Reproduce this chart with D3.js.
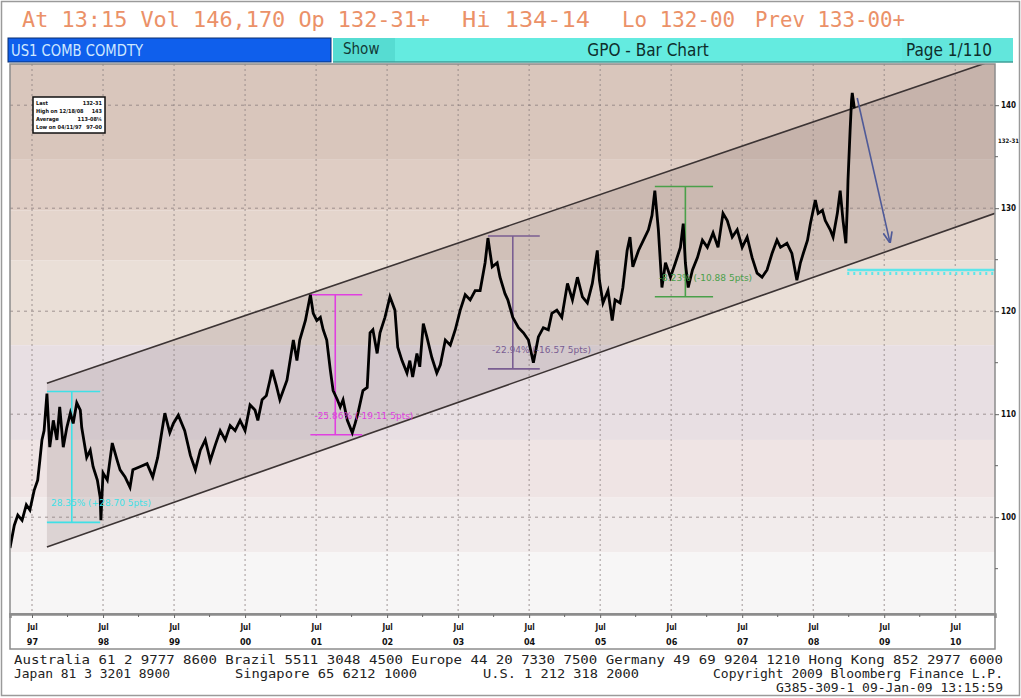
<!DOCTYPE html>
<html>
<head>
<meta charset="utf-8">
<script src="https://cdn.jsdelivr.net/npm/d3@7"></script>
<style>
  body { margin: 0; background: #fff; }
  svg { display: block; }
</style>
</head>
<body>
<div id="chart"></div>
<script>
// price path (decimal year, price)
var dates = [1997.19,1997.25,1997.30,1997.36,1997.42,1997.47,1997.53,1997.58,1997.61,1997.64,1997.67,1997.71,1997.75,1997.80,1997.85,1997.89,1997.94,1997.99,1998.04,1998.08,1998.13,1998.18,1998.20,1998.27,1998.32,1998.36,1998.42,1998.46,1998.47,1998.50,1998.56,1998.63,1998.70,1998.74,1998.81,1998.88,1998.92,1999.02,1999.12,1999.20,1999.27,1999.33,1999.37,1999.44,1999.49,1999.56,1999.65,1999.73,1999.80,1999.87,1999.94,2000.01,2000.08,2000.15,2000.22,2000.29,2000.36,2000.43,2000.50,2000.57,2000.64,2000.68,2000.74,2000.80,2000.85,2000.88,2000.94,2000.99,2001.09,2001.18,2001.23,2001.27,2001.35,2001.42,2001.46,2001.51,2001.56,2001.60,2001.65,2001.70,2001.74,2001.80,2001.84,2001.88,2001.94,2002.01,2002.05,2002.09,2002.16,2002.22,2002.26,2002.30,2002.36,2002.40,2002.47,2002.54,2002.61,2002.65,2002.71,2002.78,2002.82,2002.86,2002.92,2002.96,2003.01,2003.06,2003.13,2003.20,2003.25,2003.32,2003.39,2003.46,2003.53,2003.60,2003.67,2003.74,2003.81,2003.88,2003.92,2003.98,2004.05,2004.09,2004.16,2004.20,2004.27,2004.35,2004.42,2004.49,2004.56,2004.63,2004.70,2004.77,2004.82,2004.89,2004.96,2005.04,2005.11,2005.18,2005.25,2005.32,2005.39,2005.46,2005.49,2005.54,2005.61,2005.67,2005.71,2005.78,2005.82,2005.88,2005.92,2005.96,2006.04,2006.11,2006.18,2006.23,2006.27,2006.32,2006.37,2006.42,2006.49,2006.56,2006.63,2006.67,2006.70,2006.74,2006.80,2006.87,2006.94,2007.01,2007.09,2007.16,2007.23,2007.29,2007.36,2007.43,2007.50,2007.57,2007.64,2007.71,2007.78,2007.85,2007.92,2007.99,2008.04,2008.13,2008.20,2008.27,2008.32,2008.36,2008.42,2008.46,2008.53,2008.57,2008.63,2008.67,2008.74,2008.78,2008.84,2008.88,2008.92,2008.96,2008.98,2008.99,2009.02,2009.04,2009.05,2009.08];
var prices = [97.0,99.2,100.2,99.7,101.2,100.7,102.6,103.6,105.5,107.5,108.4,112.0,106.8,109.4,107.5,110.7,106.8,108.7,110.1,109.1,111.1,110.4,108.7,105.8,106.5,104.9,103.6,101.9,99.7,104.3,103.6,107.2,105.5,104.6,103.9,102.9,104.6,104.9,105.2,103.9,105.8,108.4,110.1,108.2,109.1,109.9,108.4,106.0,104.6,106.5,107.5,105.5,107.0,108.4,107.5,108.9,108.4,109.4,108.4,110.9,110.4,109.4,111.4,111.8,113.3,114.3,112.8,111.4,113.3,117.2,115.2,117.2,119.1,121.6,119.8,119.1,119.4,118.2,117.2,114.3,112.3,111.4,110.7,111.4,109.4,108.2,109.1,110.1,112.3,112.6,117.9,118.2,115.9,117.9,119.4,121.4,120.1,116.5,115.2,114.0,115.2,113.6,115.9,114.6,118.8,117.5,115.5,114.0,114.8,117.2,116.7,118.2,120.1,121.6,121.1,122.0,122.0,124.7,127.1,124.3,124.7,123.3,121.7,121.1,119.4,118.4,117.9,117.2,115.0,117.5,118.4,118.2,119.8,120.1,119.4,122.7,121.1,123.3,121.4,120.8,122.7,125.9,123.0,120.8,122.0,119.1,121.1,120.8,122.3,125.9,127.2,124.3,125.9,126.9,127.9,129.3,131.7,127.9,122.3,124.7,123.3,124.7,126.2,128.5,124.7,122.3,124.0,125.2,126.9,126.2,127.6,126.2,129.5,128.8,127.2,127.9,126.2,127.2,125.2,123.7,123.3,124.0,125.6,126.9,126.2,126.6,125.6,123.0,124.7,125.6,126.9,128.5,130.8,129.5,129.8,128.8,127.9,127.2,129.5,131.7,128.8,126.6,130.1,132.7,137.6,140.5,141.2,139.7];

var yTicks = [100, 110, 120, 130, 140];
var yMinorTicks = [95, 105, 115, 125, 135];
var xTicks = [1997.5,1998.5,1999.5,2000.5,2001.5,2002.5,2003.5,2004.5,2005.5,2006.5,2007.5,2008.5,2009.5,2010.5];
var xMinorTicks = [1998,1999,2000,2001,2002,2003,2004,2005,2006,2007,2008,2009,2010];
var xTickMonth = "Jul";
var xTickYears = ["97","98","99","00","01","02","03","04","05","06","07","08","09","10"];

// shaded price bands (top edge to bottom edge)
var bandEdges = [144, 134.7, 129.8, 124.95, 116.7, 107.5, 101.9, 96.6, 90.6];
var bandColors = ["#d9c6bc", "#dfcdc4", "#e4d5cc", "#eadfd7", "#e8dfe3", "#efe4e4", "#f2ecec", "#f7f6f6"];

// trend channel
var channelDates = [1997.71, 2011.06];
var channelUpper = [113.0, 144.4];
var channelLower = [97.1, 129.5];

// retracement measurements
var measureFrom = [1997.71, 2001.42, 2003.92, 2006.27];
var measureTo = [1998.46, 2002.15, 2004.65, 2007.09];
var measureAt = [1998.06, 2001.77, 2004.27, 2006.70];
var measureHigh = [112.2, 121.6, 127.3, 132.1];
var measureLow = [99.5, 108.0, 114.4, 121.4];
var measureLabels = ["28.35% (+28.70 5pts)", "-25.86% (-19.11 5pts)", "-22.94% (-16.57 5pts)", "-8.23% (-10.88 5pts)"];
var measureColors = ["#3fe0e6", "#e040e0", "#7a5e92", "#4aa04a"];

var supportLevel = 124.0;
var supportDates = [2008.98, 2011.06];
var arrowFrom = [2009.12, 140.7];
var arrowTo = [2009.58, 126.7];
var axisNote = [136.6, "132-31"];

var headerItems = ["At 13:15 Vol 146,170 Op 132-31+", "Hi 134-14", "Lo 132-00", "Prev 133-00+"];
var legendRows = [["Last", "132-31"], ["High on 12/18/08", "143"], ["Average", "113-08\u00bc"], ["Low on 04/11/97", "97-00"]];
var footerRow1 = "Australia 61 2 9777 8600 Brazil 5511 3048 4500 Europe 44 20 7330 7500 Germany 49 69 9204 1210 Hong Kong 852 2977 6000";
var footerRow2 = ["Japan 81 3 3201 8900", "Singapore 65 6212 1000", "U.S. 1 212 318 2000", "Copyright 2009 Bloomberg Finance L.P."];
var footerRow3 = "G385-309-1 09-Jan-09 13:15:59";

var width = 1021;
var height = 698;
var plotLeft = 10, plotRight = 995, plotTop = 64, plotBottom = 614;

var svg = d3.select("#chart").append("svg")
  .attr("width", width)
  .attr("height", height);

svg.append("rect")
  .attr("width", width).attr("height", height)
  .attr("fill", "#fff");

var x = d3.scaleLinear().domain([1997.19, 2011.06]).range([plotLeft, plotRight]);
var y = d3.scaleLinear().domain([90.6, 144]).range([plotBottom, plotTop]);

// ---- header ----
var headerX = [[22, 408], [462, 128], [622, 113], [755, 150]];
svg.selectAll(".hdr").data(headerItems).enter().append("text")
  .attr("class", "hdr")
  .attr("x", function(d, i) { return headerX[i][0]; })
  .attr("y", 27)
  .attr("textLength", function(d, i) { return headerX[i][1]; })
  .attr("lengthAdjust", "spacingAndGlyphs")
  .attr("font-family", "DejaVu Sans Mono")
  .attr("font-size", 21)
  .attr("fill", "#eb9168")
  .text(function(d) { return d; });

svg.append("rect").attr("x", 8).attr("y", 38).attr("width", 323).attr("height", 24)
  .attr("fill", "#0f5fec").attr("stroke", "#0a2e6e").attr("stroke-width", 1);
svg.append("text").attr("x", 11).attr("y", 56)
  .attr("font-family", "Liberation Sans Narrow, DejaVu Sans Condensed, sans-serif")
  .attr("font-size", 16).attr("fill", "#cfe8ff")
  .attr("textLength", 132).attr("lengthAdjust", "spacingAndGlyphs")
  .text("US1 COMB COMDTY");

svg.append("rect").attr("x", 333).attr("y", 38).attr("width", 62).attr("height", 24)
  .attr("fill", "#56dcd2");
svg.append("rect").attr("x", 395).attr("y", 38).attr("width", 507).attr("height", 24)
  .attr("fill", "#64ebe0");
svg.append("rect").attr("x", 902).attr("y", 38).attr("width", 111).attr("height", 24)
  .attr("fill", "#62e6dc");
svg.append("line").attr("x1", 333).attr("x2", 1013).attr("y1", 62).attr("y2", 62)
  .attr("stroke", "#3f9f98").attr("stroke-width", 1.5);
svg.append("text").attr("x", 343).attr("y", 54)
  .attr("font-family", "DejaVu Sans Condensed, sans-serif").attr("font-size", 15)
  .attr("fill", "#123a36").text("Show");
svg.append("text").attr("x", 648).attr("y", 56).attr("text-anchor", "middle")
  .attr("font-family", "DejaVu Sans Condensed, sans-serif").attr("font-size", 17)
  .attr("fill", "#0e2e2c").text("GPO - Bar Chart");
svg.append("text").attr("x", 906).attr("y", 56)
  .attr("font-family", "DejaVu Sans Condensed, sans-serif").attr("font-size", 17)
  .attr("fill", "#0e2e2c").text("Page 1/110");

// ---- plot area ----
svg.append("clipPath").attr("id", "plotClip")
  .append("rect").attr("x", plotLeft).attr("y", plotTop)
  .attr("width", plotRight - plotLeft).attr("height", plotBottom - plotTop);

var plot = svg.append("g").attr("clip-path", "url(#plotClip)");

plot.selectAll(".band").data(bandColors).enter().append("rect")
  .attr("class", "band")
  .attr("x", plotLeft)
  .attr("width", plotRight - plotLeft)
  .attr("y", function(d, i) { return y(bandEdges[i]); })
  .attr("height", function(d, i) { return y(bandEdges[i + 1]) - y(bandEdges[i]); })
  .attr("fill", function(d) { return d; });

// channel shading
var channelPoly = [
  [x(channelDates[0]), y(channelUpper[0])],
  [x(channelDates[1]), y(channelUpper[1])],
  [x(channelDates[1]), y(channelLower[1])],
  [x(channelDates[0]), y(channelLower[0])]
];
plot.append("polygon")
  .attr("points", channelPoly.map(function(p) { return p.join(","); }).join(" "))
  .attr("fill", "#5e4848")
  .attr("fill-opacity", 0.15);

// grid
plot.selectAll(".vgrid").data(xTicks).enter().append("line")
  .attr("x1", function(d) { return x(d); })
  .attr("x2", function(d) { return x(d); })
  .attr("y1", plotTop).attr("y2", plotBottom)
  .attr("stroke", "#8a7f7f").attr("stroke-width", 0.8)
  .attr("stroke-dasharray", "2,3");
plot.selectAll(".hgrid").data(yTicks).enter().append("line")
  .attr("x1", plotLeft).attr("x2", plotRight)
  .attr("y1", function(d) { return y(d); })
  .attr("y2", function(d) { return y(d); })
  .attr("stroke", "#8a7f7f").attr("stroke-width", 0.8)
  .attr("stroke-dasharray", "3,4");

// channel lines
[channelUpper, channelLower].forEach(function(c) {
  plot.append("line")
    .attr("x1", x(channelDates[0])).attr("y1", y(c[0]))
    .attr("x2", x(channelDates[1])).attr("y2", y(c[1]))
    .attr("stroke", "#3c3434").attr("stroke-width", 1.6);
});

// support level
plot.append("line")
  .attr("x1", x(supportDates[0])).attr("x2", x(supportDates[1]))
  .attr("y1", y(supportLevel)).attr("y2", y(supportLevel))
  .attr("stroke", "#5ee6ea").attr("stroke-width", 2.5);
plot.append("line")
  .attr("x1", x(supportDates[0])).attr("x2", x(supportDates[1]))
  .attr("y1", y(supportLevel) + 3.5).attr("y2", y(supportLevel) + 3.5)
  .attr("stroke", "#5ee6ea").attr("stroke-width", 3)
  .attr("stroke-dasharray", "2,4");

// measurements
measureAt.forEach(function(t, i) {
  var g = plot.append("g").attr("stroke", measureColors[i]).attr("stroke-width", 1.6);
  g.append("line").attr("x1", x(measureFrom[i])).attr("x2", x(measureTo[i]))
    .attr("y1", y(measureHigh[i])).attr("y2", y(measureHigh[i]));
  g.append("line").attr("x1", x(measureFrom[i])).attr("x2", x(measureTo[i]))
    .attr("y1", y(measureLow[i])).attr("y2", y(measureLow[i]));
  g.append("line").attr("x1", x(t)).attr("x2", x(t))
    .attr("y1", y(measureHigh[i])).attr("y2", y(measureLow[i]));
});

// price
var line = d3.line()
  .x(function(d, i) { return x(dates[i]); })
  .y(function(d) { return y(d); });

plot.append("path")
  .attr("d", line(prices))
  .attr("fill", "none")
  .attr("stroke", "#000")
  .attr("stroke-width", 2.8)
  .attr("stroke-linejoin", "miter");

measureLabels.forEach(function(s, i) {
  plot.append("text")
    .attr("x", x(measureFrom[i]) + 4)
    .attr("y", y(measureLow[i]) - 16)
    .attr("font-family", "DejaVu Sans, sans-serif")
    .attr("font-size", 9)
    .attr("fill", measureColors[i])
    .text(s);
});

// arrow
svg.append("defs").append("marker")
  .attr("id", "arrowHead").attr("viewBox", "0 0 10 10")
  .attr("refX", 9).attr("refY", 5)
  .attr("markerWidth", 7).attr("markerHeight", 7)
  .attr("orient", "auto")
  .append("path").attr("d", "M0,1 L10,5 L0,9").attr("fill", "none")
  .attr("stroke", "#4f5a98").attr("stroke-width", 1.5);
plot.append("line")
  .attr("x1", x(arrowFrom[0])).attr("y1", y(arrowFrom[1]))
  .attr("x2", x(arrowTo[0])).attr("y2", y(arrowTo[1]))
  .attr("stroke", "#4f5a98").attr("stroke-width", 1.6)
  .attr("marker-end", "url(#arrowHead)");

// legend box
var legend = svg.append("g").attr("transform", "translate(33,97)");
legend.append("rect").attr("width", 72).attr("height", 36)
  .attr("fill", "#fff").attr("stroke", "#111").attr("stroke-width", 1.5);
legendRows.forEach(function(r, i) {
  legend.append("text").attr("x", 3).attr("y", 8 + i * 8)
    .attr("font-family", "DejaVu Sans Condensed, sans-serif").attr("font-size", 5.5)
    .attr("font-weight", "bold").attr("fill", "#111").text(r[0]);
  legend.append("text").attr("x", 69).attr("y", 8 + i * 8).attr("text-anchor", "end")
    .attr("font-family", "DejaVu Sans Condensed, sans-serif").attr("font-size", 5.5)
    .attr("font-weight", "bold").attr("fill", "#111").text(r[1]);
});

// frame
svg.append("rect").attr("x", plotLeft).attr("y", plotTop)
  .attr("width", plotRight - plotLeft).attr("height", plotBottom - plotTop)
  .attr("fill", "none").attr("stroke", "#8c8c8c").attr("stroke-width", 1.5);

// bottom axis
var xAxis = svg.append("g")
  .attr("transform", "translate(0," + plotBottom + ")")
  .call(d3.axisBottom(x).tickValues(xTicks).tickSize(4).tickFormat(function() { return xTickMonth; }));
xAxis.select(".domain").attr("stroke", "#8c8c8c").attr("stroke-width", 2.5);
xAxis.selectAll(".tick line").attr("stroke", "#666");
xAxis.selectAll(".tick text")
  .attr("font-family", "DejaVu Sans Condensed, sans-serif").attr("font-size", 8)
  .attr("font-weight", "bold").attr("fill", "#111").attr("dy", "1.1em");
xAxis.selectAll(".tick").append("text")
  .attr("y", 31)
  .attr("text-anchor", "middle")
  .attr("font-family", "DejaVu Sans Condensed, sans-serif").attr("font-size", 9)
  .attr("font-weight", "bold").attr("fill", "#111")
  .text(function(d, i) { return xTickYears[i]; });
svg.append("g")
  .attr("transform", "translate(0," + plotBottom + ")")
  .selectAll("line").data(xMinorTicks).enter().append("line")
  .attr("x1", function(d) { return x(d); }).attr("x2", function(d) { return x(d); })
  .attr("y1", 0).attr("y2", 3).attr("stroke", "#666");
svg.append("rect").attr("x", plotLeft).attr("y", plotBottom)
  .attr("width", plotRight - plotLeft).attr("height", 35)
  .attr("fill", "none").attr("stroke", "#8c8c8c").attr("stroke-width", 1.5);

// right axis
var yAxis = svg.append("g")
  .attr("transform", "translate(" + plotRight + ",0)")
  .call(d3.axisRight(y).tickValues(yTicks).tickSize(4).tickFormat(d3.format("d")));
yAxis.select(".domain").remove();
yAxis.selectAll(".tick line").attr("stroke", "#666");
yAxis.selectAll(".tick text")
  .attr("font-family", "DejaVu Sans Condensed, sans-serif").attr("font-size", 8)
  .attr("font-weight", "bold").attr("fill", "#111").attr("x", 6);
svg.append("g").selectAll("line").data(yMinorTicks).enter().append("line")
  .attr("x1", plotRight).attr("x2", plotRight + 3)
  .attr("y1", function(d) { return y(d); }).attr("y2", function(d) { return y(d); })
  .attr("stroke", "#666");
svg.append("text").attr("x", plotRight + 3).attr("y", y(axisNote[0]) + 3)
  .attr("font-family", "DejaVu Sans Condensed, sans-serif").attr("font-size", 6)
  .attr("font-weight", "bold").attr("fill", "#111").text(axisNote[1]);

// footer
svg.append("text").attr("x", 14).attr("y", 664)
  .attr("textLength", 989).attr("lengthAdjust", "spacingAndGlyphs")
  .attr("font-family", "DejaVu Sans Mono").attr("font-size", 13).attr("fill", "#222")
  .text(footerRow1);
var row2X = [14, 235, 483, 713];
var row2W = [156, 182, 156, 290];
footerRow2.forEach(function(s, i) {
  svg.append("text").attr("x", row2X[i]).attr("y", 678)
    .attr("textLength", row2W[i]).attr("lengthAdjust", "spacingAndGlyphs")
    .attr("font-family", "DejaVu Sans Mono").attr("font-size", 13).attr("fill", "#222")
    .text(s);
});
svg.append("text").attr("x", 1003).attr("y", 692).attr("text-anchor", "end")
  .attr("font-family", "DejaVu Sans Mono").attr("font-size", 13).attr("fill", "#222")
  .text(footerRow3);

svg.append("rect").attr("x", 1.5).attr("y", 1.5)
  .attr("width", width - 3).attr("height", height - 4)
  .attr("fill", "none").attr("stroke", "#9a9a9a").attr("stroke-width", 1.5);
</script>
</body>
</html>
